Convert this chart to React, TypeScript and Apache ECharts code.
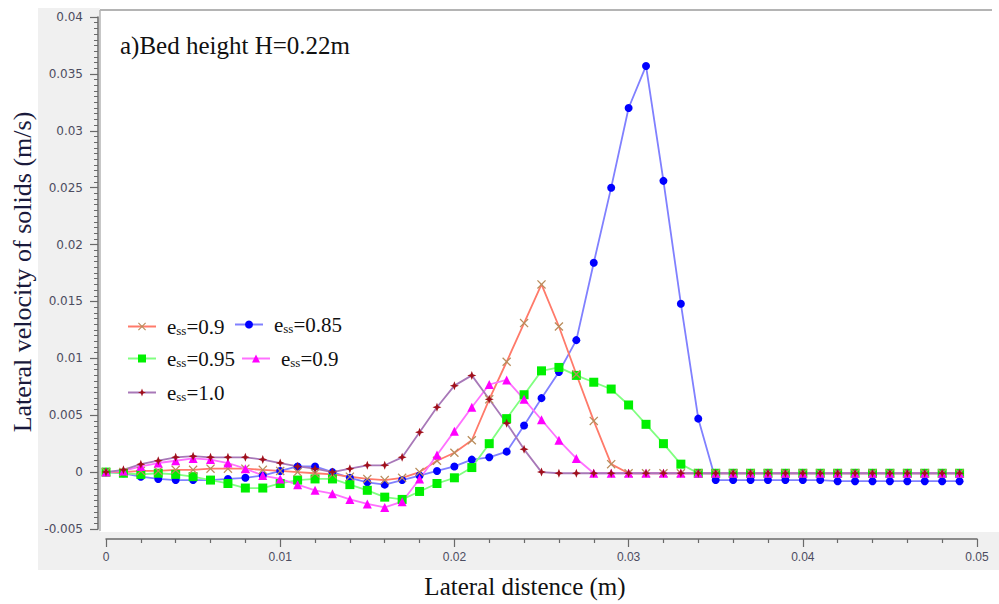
import React, { useEffect, useRef } from "react";
import * as echarts from "echarts";

const xValues = [
  0, 0.001, 0.002, 0.003, 0.004, 0.005, 0.006, 0.007, 0.008, 0.009,
  0.01, 0.011, 0.012, 0.013, 0.014, 0.015, 0.016, 0.017, 0.018, 0.019,
  0.02, 0.021, 0.022, 0.023, 0.024, 0.025, 0.026, 0.027, 0.028, 0.029,
  0.03, 0.031, 0.032, 0.033, 0.034, 0.035, 0.036, 0.037, 0.038, 0.039,
  0.04, 0.041, 0.042, 0.043, 0.044, 0.045, 0.046, 0.047, 0.048, 0.049,
];

// e_ss = 0.9 (cross markers)
const essCross09 = [
  0, 0.0, 0.0001, 0.0001, 0.0002, 0.0002, 0.0003, 0.0003, 0.0003, 0.0002,
  0.0001, 0.0, -0.0001, -0.0002, -0.0004, -0.0006, -0.0007, -0.0005, 0.0, 0.001,
  0.0017, 0.0028, 0.0064, 0.0097, 0.0131, 0.0165, 0.0128, 0.0086, 0.0045, 0.0007,
  -0.0001, -0.0001, -0.0001, -0.0001, -0.0001, -0.0001, -0.0001, -0.0001, -0.0001, -0.0001,
  -0.0001, -0.0001, -0.0001, -0.0001, -0.0001, -0.0001, -0.0001, -0.0001, -0.0001, -0.0001,
];

// e_ss = 0.85 (circles)
const ess085 = [
  0, -0.0001, -0.0004, -0.0006, -0.0007, -0.0007, -0.0007, -0.0006, -0.0005, -0.0003,
  0.0001, 0.0005, 0.0005, 0.0, -0.0005, -0.0009, -0.0011, -0.0007, -0.0003, 0.0001,
  0.0005, 0.0011, 0.0013, 0.0018, 0.0041, 0.0065, 0.0088, 0.0116, 0.0184, 0.025,
  0.032, 0.0357, 0.0256, 0.0148, 0.0047, -0.0007, -0.0007, -0.0007, -0.0007, -0.0007,
  -0.0007, -0.0007, -0.0008, -0.0008, -0.0008, -0.0008, -0.0008, -0.0008, -0.0008, -0.0008,
];

// e_ss = 0.95 (squares)
const ess095 = [
  0, -0.0001, -0.0002, -0.0001, -0.0002, -0.0004, -0.0007, -0.001, -0.0014, -0.0014,
  -0.001, -0.0007, -0.0006, -0.0006, -0.0011, -0.0016, -0.0022, -0.0024, -0.0017, -0.001,
  -0.0005, 0.0004, 0.0025, 0.0047, 0.0068, 0.0089, 0.0092, 0.0085, 0.0079, 0.0073,
  0.0059, 0.0042, 0.0025, 0.0007, -0.0001, -0.0001, -0.0001, -0.0001, -0.0001, -0.0001,
  -0.0001, -0.0001, -0.0001, -0.0001, -0.0001, -0.0001, -0.0001, -0.0001, -0.0001, -0.0001,
];

// e_ss = 0.9 (triangles)
const essTri09 = [
  0, 0.0001, 0.0005, 0.0008, 0.001, 0.0012, 0.0011, 0.0008, 0.0003, -0.0003,
  -0.0006, -0.0011, -0.0016, -0.0019, -0.0024, -0.0028, -0.0031, -0.0026, -0.0006, 0.0015,
  0.0036, 0.0057, 0.0077, 0.0081, 0.0064, 0.0046, 0.0028, 0.0012, -0.0001, -0.0001,
  -0.0001, -0.0001, -0.0001, -0.0001, -0.0001, -0.0001, -0.0001, -0.0001, -0.0001, -0.0001,
  -0.0001, -0.0001, -0.0001, -0.0001, -0.0001, -0.0001, -0.0001, -0.0001, -0.0001, -0.0001,
];

// e_ss = 1.0 (stars)
const ess10 = [
  0, 0.0002, 0.0007, 0.001, 0.0013, 0.0014, 0.0013, 0.0013, 0.0013, 0.0011,
  0.0008, 0.0005, 0.0003, 0.0, 0.0003, 0.0006, 0.0006, 0.0013, 0.0035, 0.0057,
  0.0076, 0.0085, 0.0064, 0.0043, 0.002, 0.0, -0.0001, -0.0001, -0.0001, -0.0001,
  -0.0001, -0.0001, -0.0001, -0.0001, -0.0001, -0.0001, -0.0001, -0.0001, -0.0001, -0.0001,
  -0.0001, -0.0001, -0.0001, -0.0001, -0.0001, -0.0001, -0.0001, -0.0001, -0.0001, -0.0001,
];

const legendLabels: Record<string, string> = {
  cross09: "{g|}{e|e}{s|ss}{e|=0.9}",
  c085: "{g|}{e|e}{s|ss}{e|=0.85}",
  sq095: "{g|}{e|e}{s|ss}{e|=0.95}",
  tri09: "{g|}{e|e}{s|ss}{e|=0.9}",
  star10: "{g|}{e|e}{s|ss}{e|=1.0}",
};

const crossPath =
  "path://M0,1 L1,0 L5,4 L9,0 L10,1 L6,5 L10,9 L9,10 L5,6 L1,10 L0,9 L4,5 Z";
const starPath =
  "path://M5,0 L6.4,3.6 L10,5 L6.4,6.4 L5,10 L3.6,6.4 L0,5 L3.6,3.6 Z";

const pair = (ys: number[]) => xValues.map((x, i) => [x, ys[i]]);

const serif = "'Liberation Serif', 'DejaVu Serif', serif";

export default function App() {
  const ref = useRef<HTMLDivElement>(null);
  useEffect(() => {
    const chart = echarts.init(ref.current!, null, { renderer: "svg" });
    const rich = {
      g: { width: 6 },
      e: { fontFamily: serif, fontSize: 21, color: "#111" },
      s: { fontFamily: serif, fontSize: 13, color: "#111", verticalAlign: "bottom", padding: [7, 0, 0, 0] },
    };
    const mkLegend = (name: string, left: number, top: number) => ({
      data: [name],
      left,
      top,
      orient: "horizontal",
      itemWidth: 28,
      itemHeight: 10,
      padding: 0,
      formatter: (n: string) => legendLabels[n],
      textStyle: { rich },
    });
    const axisColor = "#6a6a6a";
    const labelColor = "#4c4c60";
    chart.setOption({
      animation: false,
      backgroundColor: "#ffffff",
      grid: { left: 106, right: 22, top: 17, bottom: 75 },
      legend: [
        mkLegend("cross09", 127, 316),
        mkLegend("c085", 234, 314),
        mkLegend("sq095", 127, 348),
        mkLegend("tri09", 241, 348),
        mkLegend("star10", 127, 382),
      ],
      xAxis: {
        type: "value",
        min: 0,
        max: 0.05,
        interval: 0.01,
        offset: 10,
        axisLine: { show: true, onZero: false, lineStyle: { color: axisColor, width: 1.5 } },
        axisTick: { show: true, length: 8, lineStyle: { color: axisColor, width: 1.2 } },
        minorTick: { show: true, splitNumber: 5, length: 4, lineStyle: { color: axisColor, width: 1.2 } },
        splitLine: { show: false },
        axisLabel: {
          margin: 12,
          fontFamily: "'Liberation Sans', 'DejaVu Sans', sans-serif",
          fontSize: 12,
          color: labelColor,
          formatter: (v: number) => String(+v.toFixed(3)),
        },
      },
      yAxis: {
        type: "value",
        min: -0.005,
        max: 0.04,
        interval: 0.005,
        offset: 8,
        axisLine: { show: true, onZero: false, lineStyle: { color: axisColor, width: 1.5 } },
        axisTick: { show: true, length: 8, lineStyle: { color: axisColor, width: 1.2 } },
        minorTick: { show: true, splitNumber: 10, length: 4, lineStyle: { color: axisColor, width: 1 } },
        splitLine: { show: false },
        axisLabel: {
          margin: 15,
          fontFamily: "'DejaVu Sans', sans-serif",
          fontSize: 12,
          color: labelColor,
          formatter: (v: number) => String(+v.toFixed(3)),
        },
      },
      graphic: [
        { type: "rect", z: -10, shape: { x: 38, y: 8, width: 62, height: 562 }, style: { fill: "#f0f0f0" } },
        { type: "rect", z: -10, shape: { x: 38, y: 532, width: 961, height: 38 }, style: { fill: "#f0f0f0" } },
        { type: "line", z: -5, shape: { x1: 100, y1: 10, x2: 992, y2: 10 }, style: { stroke: "#b4b4b4", lineWidth: 2 } },
        { type: "line", z: -5, shape: { x1: 100, y1: 10, x2: 100, y2: 531 }, style: { stroke: "#b4b4b4", lineWidth: 1.5 } },
        {
          type: "text",
          x: 120,
          y: 45,
          style: { text: "a)Bed height H=0.22m", font: `25px ${serif}`, fill: "#111", verticalAlign: "middle", align: "left" },
        },
        {
          type: "text",
          x: 22,
          y: 272,
          rotation: Math.PI / 2,
          style: { text: "Lateral velocity of solids (m/s)", font: `26px ${serif}`, fill: "#1a1a3c", verticalAlign: "middle", align: "center" },
        },
        {
          type: "text",
          x: 525,
          y: 586,
          style: { text: "Lateral distence (m)", font: `25px ${serif}`, fill: "#111", verticalAlign: "middle", align: "center" },
        },
      ],
      series: [
        {
          name: "c085",
          type: "line",
          data: pair(ess085),
          symbol: "circle",
          symbolSize: 8,
          lineStyle: { color: "#8080ff", width: 1.8 },
          itemStyle: { color: "#0000ff" },
        },
        {
          name: "sq095",
          type: "line",
          data: pair(ess095),
          symbol: "rect",
          symbolSize: 9,
          lineStyle: { color: "#80ff80", width: 1.8 },
          itemStyle: { color: "#00f000" },
        },
        {
          name: "cross09",
          type: "line",
          data: pair(essCross09),
          symbol: crossPath,
          symbolSize: 9,
          lineStyle: { color: "#ff7a6a", width: 1.8 },
          itemStyle: { color: "#b98d5c" },
        },
        {
          name: "tri09",
          type: "line",
          data: pair(essTri09),
          symbol: "triangle",
          symbolSize: 9,
          lineStyle: { color: "#ff70ff", width: 1.8 },
          itemStyle: { color: "#ff00ff" },
        },
        {
          name: "star10",
          type: "line",
          data: pair(ess10),
          symbol: starPath,
          symbolSize: 9,
          lineStyle: { color: "#a878b8", width: 1.8 },
          itemStyle: { color: "#a0101c" },
        },
      ],
    });
    return () => chart.dispose();
  }, []);
  return <div ref={ref} style={{ position: "fixed", left: 0, top: 0, width: 999, height: 604 }} />;
}
